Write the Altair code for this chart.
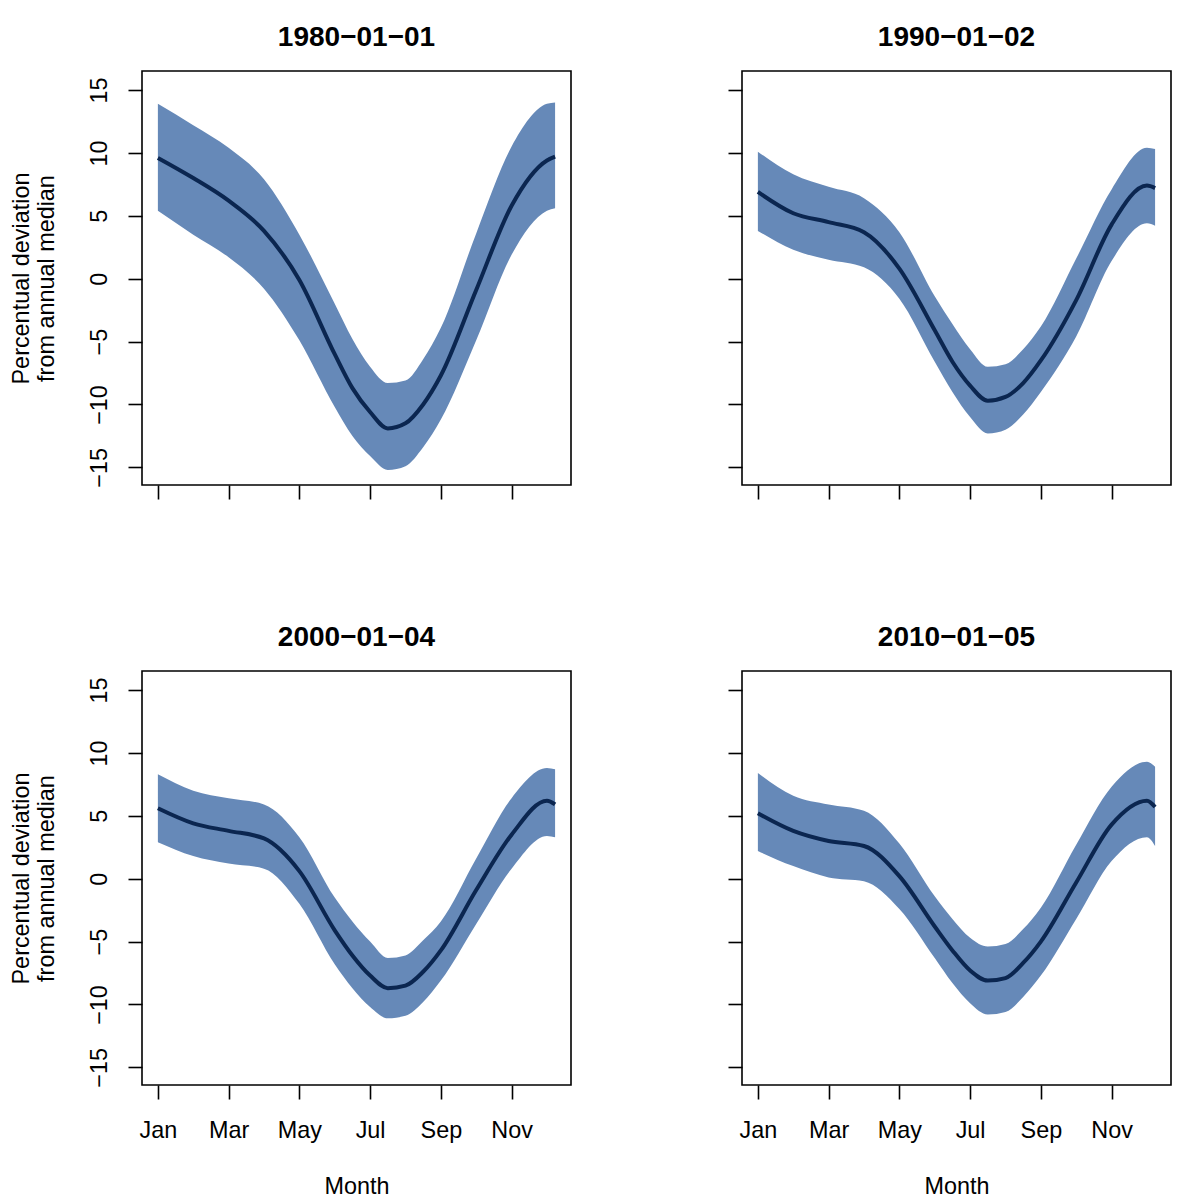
import json
import altair as alt
import pandas as pd

# ---- data ----
MONTHS = [1, 2, 3, 4, 5, 6, 6.5, 7, 7.5, 8, 8.5, 9, 10, 11, 12, 12.23]

TITLES = ["1980−01−01", "1990−01−02", "2000−01−04", "2010−01−05"]

MID_1980 = [9.6, 8.0, 6.2, 3.8, -0.1, -6.0, -8.7, -10.6, -11.9, -11.5, -10.0, -7.7, -0.9, 5.8, 9.4, 9.7]
UP_1980 = [13.9, 12.2, 10.4, 7.9, 3.5, -2.0, -4.8, -7.0, -8.3, -8.1, -6.4, -3.9, 3.6, 10.5, 13.9, 14.0]
LOW_1980 = [5.4, 3.5, 1.7, -0.8, -4.9, -10.2, -12.5, -14.1, -15.2, -14.9, -13.4, -11.2, -4.9, 1.9, 5.4, 5.6]

MID_1990 = [6.9, 5.2, 4.5, 3.7, 0.8, -4.1, -6.6, -8.5, -9.7, -9.4, -8.3, -6.5, -1.7, 4.3, 7.4, 7.2]
UP_1990 = [10.1, 8.3, 7.3, 6.4, 3.7, -1.4, -3.6, -5.6, -7.0, -6.8, -5.6, -3.8, 1.6, 7.1, 10.4, 10.3]
LOW_1990 = [3.8, 2.3, 1.5, 0.9, -1.6, -6.6, -9.0, -11.0, -12.3, -12.0, -10.8, -9.0, -4.6, 1.4, 4.4, 4.2]

MID_2000 = [5.6, 4.4, 3.8, 3.2, 0.6, -4.1, -6.1, -7.7, -8.7, -8.5, -7.4, -5.7, -0.9, 3.5, 6.2, 5.9]
UP_2000 = [8.3, 7.0, 6.4, 5.9, 3.3, -1.5, -3.4, -5.0, -6.3, -6.1, -4.9, -3.4, 1.6, 6.4, 8.8, 8.7]
LOW_2000 = [2.9, 1.8, 1.2, 0.8, -2.0, -6.8, -8.7, -10.2, -11.1, -10.9, -9.8, -8.1, -3.6, 0.8, 3.4, 3.3]

MID_2010 = [5.2, 3.8, 3.0, 2.6, 0.2, -3.8, -5.7, -7.3, -8.1, -7.9, -6.7, -5.0, -0.3, 4.3, 6.2, 5.7]
UP_2010 = [8.4, 6.6, 5.9, 5.4, 2.8, -1.4, -3.2, -4.7, -5.4, -5.2, -4.0, -2.3, 2.7, 7.3, 9.3, 8.9]
LOW_2010 = [2.2, 1.0, 0.1, -0.2, -2.4, -6.3, -8.3, -9.9, -10.8, -10.6, -9.4, -7.7, -3.2, 1.4, 3.3, 2.6]

MONTH_TICKS = list(range(1, 13))
MONTH_LABELS = ["Jan", "", "Mar", "", "May", "", "Jul", "", "Sep", "", "Nov", ""]
Y_TICKS = [-15, -10, -5, 0, 5, 10, 15]
X_DOMAIN = [0.551, 12.68]
Y_DOMAIN = [-16.40, 16.51]

FONT = "Liberation Sans"
BAND = "#6689B8"
LINE = "#0B2650"
W, H = 429, 414
FS = 23.4


def panel(title, mid, low, up, left, bottom):
    df = pd.DataFrame({"m": MONTHS, "mid": mid, "low": low, "up": up})

    xkw = dict(
        values=MONTH_TICKS,
        labels=bottom,
        labelExpr=json.dumps(MONTH_LABELS) + "[datum.value - 1]",
        labelBaseline="alphabetic",
        labelAlign="center",
        labelPadding=38.3,
    )
    if bottom:
        xkw.update(title="Month", titleY=108, titleBaseline="alphabetic",
                   titleFontSize=FS, titleFontWeight="normal", titleColor="black",
                   titleFont=FONT)
    else:
        xkw.update(title="")

    ykw = dict(
        values=Y_TICKS,
        labels=left,
        labelAngle=270,
        labelAlign="center",
        labelBaseline="alphabetic",
        labelPadding=22,
    )
    if left:
        ykw.update(title=["Percentual deviation", "from annual median"],
                   titleAngle=270, titleX=-113.5, titleY=H / 2, titleAlign="center",
                   titleBaseline="alphabetic", titleLineHeight=24.5,
                   titleFontSize=FS, titleFontWeight="normal", titleColor="black",
                   titleFont=FONT)
    else:
        ykw.update(title="")

    x = alt.X("m:Q", scale=alt.Scale(domain=X_DOMAIN, nice=False, zero=False),
              axis=alt.Axis(**xkw))
    base = alt.Chart(df)
    area = base.mark_area(color=BAND, opacity=1, interpolate="monotone").encode(
        x=x,
        y=alt.Y("low:Q", scale=alt.Scale(domain=Y_DOMAIN, nice=False, zero=False),
                axis=alt.Axis(**ykw)),
        y2="up:Q",
    )
    line = base.mark_line(color=LINE, strokeWidth=4, interpolate="monotone").encode(
        x=alt.X("m:Q"),
        y=alt.Y("mid:Q"),
    )
    return alt.layer(area, line).properties(
        width=W, height=H,
        title=alt.TitleParams(text=title, fontSize=28, fontWeight="bold", font=FONT,
                              color="black", anchor="middle", baseline="alphabetic",
                              offset=24, dy=27),
    )


p1 = panel(TITLES[0], MID_1980, LOW_1980, UP_1980, True, False)
p2 = panel(TITLES[1], MID_1990, LOW_1990, UP_1990, False, False)
p3 = panel(TITLES[2], MID_2000, LOW_2000, UP_2000, True, True)
p4 = panel(TITLES[3], MID_2010, LOW_2010, UP_2010, False, True)

chart = alt.concat(p1, p2, p3, p4, columns=2, spacing={"row": 186, "column": 171},
                   bounds="flush").properties(
    autosize=alt.AutoSizeParams(type="none"),
    padding={"left": 134, "top": 63, "right": 1030, "bottom": 1128},
    background="white",
).configure_view(
    stroke="black", strokeWidth=1.6, fill="white"
).configure_axis(
    domain=False, grid=False, tickColor="black", tickWidth=1.6, tickSize=14,
    labelFont=FONT, labelFontSize=FS, labelColor="black",
)

chart.save("out.html", embed_options={"renderer": "svg", "actions": False})
